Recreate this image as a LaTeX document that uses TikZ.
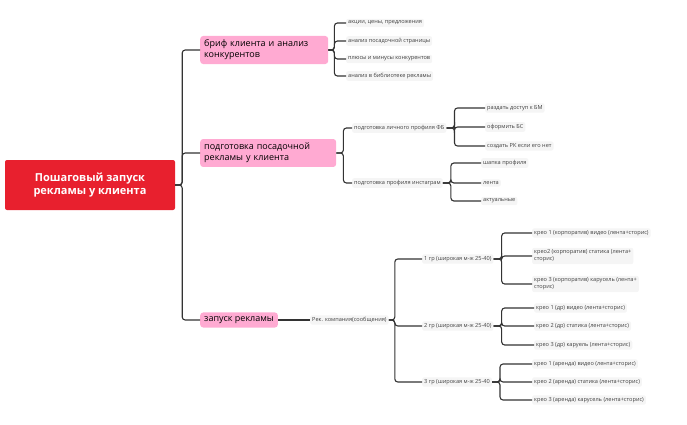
\documentclass[tikz,border=0pt]{standalone}
\usepackage{fontspec}
\setmainfont{Open Sans}
\usetikzlibrary{positioning}
\definecolor{rootred}{RGB}{232,32,46}
\definecolor{topicpink}{RGB}{255,170,210}
\tikzset{root/.style={
    rectangle,
    rounded corners=2pt,
    fill=rootred,
    text=white,
    font=\fontsize{11}{13}\selectfont\bfseries,
    align=center,
    minimum width=170pt,
    minimum height=50pt
}}
\tikzset{topic/.style={
    rectangle,
    rounded corners=3pt,
    fill=topicpink,
    font=\fontsize{9}{11}\selectfont,
    align=left,
    anchor=west,
    inner sep=4pt
}}
\tikzset{leaf/.style={
    rectangle,
    rounded corners=2pt,
    fill=gray!8,
    text=black!75,
    font=\fontsize{5.6}{7}\selectfont,
    align=left,
    anchor=west,
    inner sep=2pt
}}
\tikzset{link/.style={
    draw=black!80, line width=1.1pt, rounded corners=3pt
}}

\begin{document}
\begin{tikzpicture}[x=1pt, y=-1pt]
    \useasboundingbox (0,0) rectangle (687,425);
    % root
    \node (R) [root] at (90,185) {Пошаговый запуск\\рекламы у клиента};
    % topics
    \node (T1) [topic, text width=120pt] at (200,50) {бриф клиента и анализ\\конкурентов};
    \node (T2) [topic, text width=128pt] at (200,153) {подготовка посадочной\\рекламы у клиента};
    \node (T3) [topic] at (200,320) {запуск рекламы};
    % brief
    \node (B1) [leaf] at (346,23) {акции, цены, предложения};
    \node (B2) [leaf] at (346,41) {анализ посадочной страницы};
    \node (B3) [leaf] at (346,59) {плюсы и минусы конкурентов};
    \node (B4) [leaf] at (346,76) {анализ в библиотеке рекламы};
    % landing
    \node (P1) [leaf] at (352,128) {подготовка личного профиля ФБ};
    \node (P2) [leaf] at (352,183) {подготовка профиля инстаграм};
    \node (F1) [leaf] at (485,108) {раздать доступ к БМ};
    \node (F2) [leaf] at (485,127) {оформить БС};
    \node (F3) [leaf] at (485,146) {создать РК если его нет};
    \node (I1) [leaf] at (481,163) {шапка профиля};
    \node (I2) [leaf] at (481,183) {лента};
    \node (I3) [leaf] at (481,201) {актуальные};
    % campaign
    \node (K) [leaf] at (310,320) {Рек. компания(сообщения)};
    \node (G1) [leaf] at (422,259) {1 гр (широкая м-ж 25-40)};
    \node (G2) [leaf] at (422,326) {2 гр (широкая м-ж 25-40)};
    \node (G3) [leaf] at (422,382) {3 гр (широкая м-ж 25-40};
    \node (C1) [leaf] at (532,233) {крео 1 (корпоратив) видео (лента+сторис)};
    \node (C2) [leaf] at (532,256) {крео2 (корпоратив) статика (лента+\\сторис)};
    \node (C3) [leaf] at (532,284) {крео 3 (корпоратив) карусель (лента+\\сторис)};
    \node (D1) [leaf] at (534,308) {крео 1 (др) видео (лента+сторис)};
    \node (D2) [leaf] at (534,326) {крео 2 (др) статика (лента+сторис)};
    \node (D3) [leaf] at (534,345) {крео 3 (др) каруель (лента+сторис)};
    \node (E1) [leaf] at (532,364) {крео 1 (аренда) видео (лента+сторис)};
    \node (E2) [leaf] at (532,382) {крео 2 (аренда) статика (лента+сторис)};
    \node (E3) [leaf] at (532,400) {крео 3 (аренда) карусель (лента+сторис)};
    % connectors
    \foreach \t in {T1,T2,T3}
        \draw [link] (R.east) -- ++(7,0) |- (\t.west);
    \foreach \c in {B1,B2,B3,B4}
        \draw [link] (T1.east) -- ++(6,0) |- (\c.west);
    \foreach \c in {P1,P2}
        \draw [link] (T2.east) -- ++(7,0) |- (\c.west);
    \foreach \c in {F1,F2,F3}
        \draw [link] (P1.east) -- ++(8,0) |- (\c.west);
    \foreach \c in {I1,I2,I3}
        \draw [link] (P2.east) -- ++(8,0) |- (\c.west);
    \draw [link] (T3.east) -- (K.west);
    \foreach \c in {G1,G2,G3}
        \draw [link] (K.east) -- ++(6,0) |- (\c.west);
    \foreach \c in {C1,C2,C3}
        \draw [link] (G1.east) -- ++(8,0) |- (\c.west);
    \foreach \c in {D1,D2,D3}
        \draw [link] (G2.east) -- ++(8,0) |- (\c.west);
    \foreach \c in {E1,E2,E3}
        \draw [link] (G3.east) -- ++(8,0) |- (\c.west);
\end{tikzpicture}
\end{document}
